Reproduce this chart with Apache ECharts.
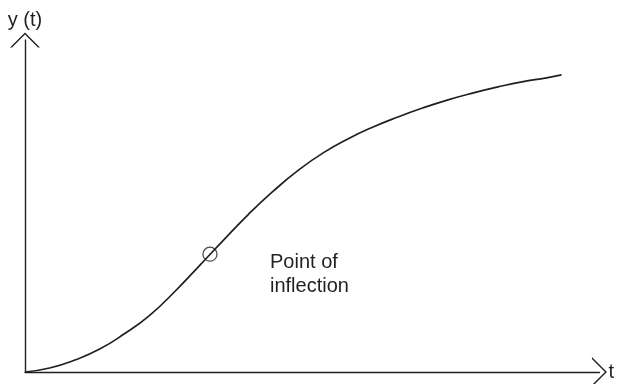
<!DOCTYPE html>
<html>
<head>
<meta charset="utf-8">
<script src="https://cdn.jsdelivr.net/npm/echarts@6/dist/echarts.min.js"></script>
<style>
  html, body { margin: 0; padding: 0; background: #fff; }
  #chart { width: 617px; height: 384px; }
</style>
</head>
<body>
<div id="chart"></div>
<script>
	// t values and y(t)
	var tValues = [0, 0.43, 0.87, 1.3, 1.73, 2.16, 2.6, 3.03, 3.46, 3.89, 4.33, 4.76, 5.19, 5.62, 6.06, 6.49, 6.92, 7.35, 7.79, 8.22, 8.65, 9.08, 9.34];
	var yValues = [0, 1.2, 3.6, 6.9, 11.5, 16.9, 24.1, 31.9, 39.8, 47.5, 54.6, 60.8, 66.0, 70.2, 73.8, 76.8, 79.5, 81.9, 84.0, 85.8, 87.4, 88.6, 89.5];
	var inflection = [3.22, 35.5];
	var xName = 't';
	var yName = 'y (t)';
	var noteText = 'Point of\ninflection';

	var ink = '#231f20';
	var font = '"Liberation Sans", Arial, Helvetica, sans-serif';
	// open chevron used as the axis arrow head
	var chevron = 'path://M0,15 L15,0 L30,15 L28,15 L15,2 L2,15 Z';

	var curve = [];
	for (var i = 0; i < tValues.length; i++) {
		curve.push([tValues[i], yValues[i]]);
	}

	function axisBase(name, gap) {
		return {
			type: 'value',
			min: 0,
			name: name,
			nameLocation: 'end',
			nameGap: gap,
			nameTextStyle: { color: ink, fontSize: 20, fontFamily: font },
			axisLine: {
				show: true,
				onZero: false,
				symbol: ['none', chevron],
				symbolSize: [30, 15],
				lineStyle: { color: ink, width: 1.4 }
			},
			axisTick: { show: false },
			axisLabel: { show: false },
			splitLine: { show: false }
		};
	}

	var xAxis = axisBase(xName, 9);
	xAxis.max = 10;
	var yAxis = axisBase(yName, 10);
	yAxis.max = 100;

	var chart = echarts.init(document.getElementById('chart'));
	var option = {
		animation: false,
		backgroundColor: '#fff',
		grid: { left: 25, right: 14, top: 40, bottom: 12, containLabel: false },
		xAxis: xAxis,
		yAxis: yAxis,
		series: [
			{
				type: 'line',
				data: curve,
				smooth: true,
				showSymbol: false,
				lineStyle: { color: ink, width: 1.7 }
			},
			{
				type: 'scatter',
				data: [inflection],
				symbol: 'circle',
				symbolSize: 14,
				itemStyle: { color: 'rgba(0,0,0,0)', borderColor: ink, borderWidth: 1.3 },
				z: 5
			}
		],
		graphic: [
			{
				type: 'text',
				left: 270,
				top: 250,
				style: {
					text: noteText,
					fill: ink,
					font: '20px ' + font,
					lineHeight: 24
				}
			}
		]
	};
	chart.setOption(option);
</script>
</body>
</html>
